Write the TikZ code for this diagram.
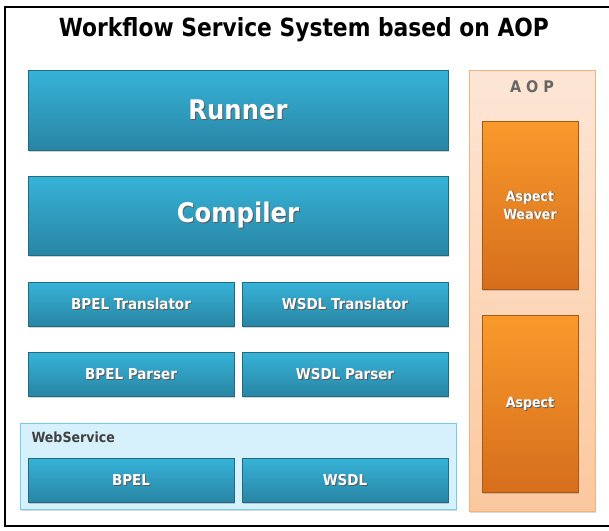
\documentclass[tikz,border=0pt]{standalone}
\usepackage{fontspec}
\setmainfont{DejaVu Sans Condensed}
\usetikzlibrary{shadows,positioning}
\definecolor{blueTop}{HTML}{36B3D8}
\definecolor{blueBot}{HTML}{2985A4}
\definecolor{orTop}{HTML}{F99A2C}
\definecolor{orBot}{HTML}{D66E1C}
\definecolor{peachTop}{HTML}{FDE6D6}
\definecolor{peachBot}{HTML}{FCC89E}
\definecolor{peachLine}{HTML}{F7B27C}
\definecolor{wsFill}{HTML}{D6F1FB}
\definecolor{wsLine}{HTML}{74CDE8}
\newcommand\shtxt[1]{\leavevmode\rlap{\raisebox{-0.9pt}[0pt][0pt]{\hspace{0.9pt}\textcolor{black!65}{#1}}}#1}
\tikzset{
  bluebox/.style={draw=blueBot!80!black, line width=0.3pt, top color=blueTop, bottom color=blueBot,
    drop shadow={shadow xshift=1.2pt, shadow yshift=-1.5pt, opacity=0.35},
    text=white, font=\bfseries, inner sep=0pt},
  orbox/.style={draw=orBot!80!black, line width=0.3pt, top color=orTop, bottom color=orBot,
    drop shadow={shadow xshift=1.2pt, shadow yshift=-1.5pt, opacity=0.35},
    text=white, font=\bfseries, inner sep=0pt, align=center},
  smalltxt/.style={font=\bfseries\fontsize{15}{17}\selectfont},
  bigtxt/.style={font=\bfseries\fontsize{27}{30}\selectfont},
}
\begin{document}
\begin{tikzpicture}[x=1pt,y=-1pt]
\useasboundingbox (0,0) rectangle (609,530);
% outer frame, open on the right
\draw[line width=2.2pt] (609,7) -- (5,7) -- (5,526) -- (609,526);
% title
\node (title) at (304,30) {\fontsize{25}{28}\selectfont\bfseries\scalebox{0.97}[1]{Workflow Service System based on AOP}};
% AOP column
\path[draw=peachLine, line width=0.6pt, top color=peachTop, bottom color=peachBot,
  drop shadow={shadow xshift=1.2pt, shadow yshift=-1.5pt, opacity=0.3}] (469,70) rectangle (595,511);
\node[text=black!60] (aoptitle) at (532,87) {\fontsize{16}{18}\selectfont\bfseries A\hspace{5pt}O\hspace{5pt}P};
% WebService container
\path[draw=wsLine, line width=0.8pt, fill=wsFill,
  drop shadow={shadow xshift=1.2pt, shadow yshift=-1.5pt, opacity=0.3}] (20,423) rectangle (456,509);
\node[anchor=west, text=black!75, font=\bfseries\fontsize{14}{16}\selectfont] (wslabel) at (28,437) {WebService};
% blue layers
\path[bluebox] (28,70) rectangle (448,150) node[midway, bigtxt] (runner) {\shtxt{Runner}};
\path[bluebox] (28,176) rectangle (448,255) node[midway, bigtxt] (compiler) {\shtxt{Compiler}};
\path[bluebox] (28,282) rectangle (234,326) node[midway, smalltxt] (bpeltr) {\shtxt{BPEL Translator}};
\path[bluebox] (242,282) rectangle (448,326) node[midway, smalltxt] (wsdltr) {\shtxt{WSDL Translator}};
\path[bluebox] (28,352) rectangle (234,396) node[midway, smalltxt] (bpelpa) {\shtxt{BPEL Parser}};
\path[bluebox] (242,352) rectangle (448,396) node[midway, smalltxt] (wsdlpa) {\shtxt{WSDL Parser}};
\path[bluebox] (28,458) rectangle (234,502) node[midway, smalltxt] (bpel) {\shtxt{BPEL}};
\path[bluebox] (242,458) rectangle (448,502) node[midway, smalltxt] (wsdl) {\shtxt{WSDL}};
% orange aspect boxes
\path[orbox] (482,121) rectangle (578,289) node[midway, align=center, font=\bfseries\fontsize{14}{18}\selectfont] (weaver) {\shtxt{Aspect}\\\shtxt{Weaver}};
\path[orbox] (482,315) rectangle (578,492) node[midway, font=\bfseries\fontsize{14}{16}\selectfont] (aspect) {\shtxt{Aspect}};
\end{tikzpicture}
\end{document}
